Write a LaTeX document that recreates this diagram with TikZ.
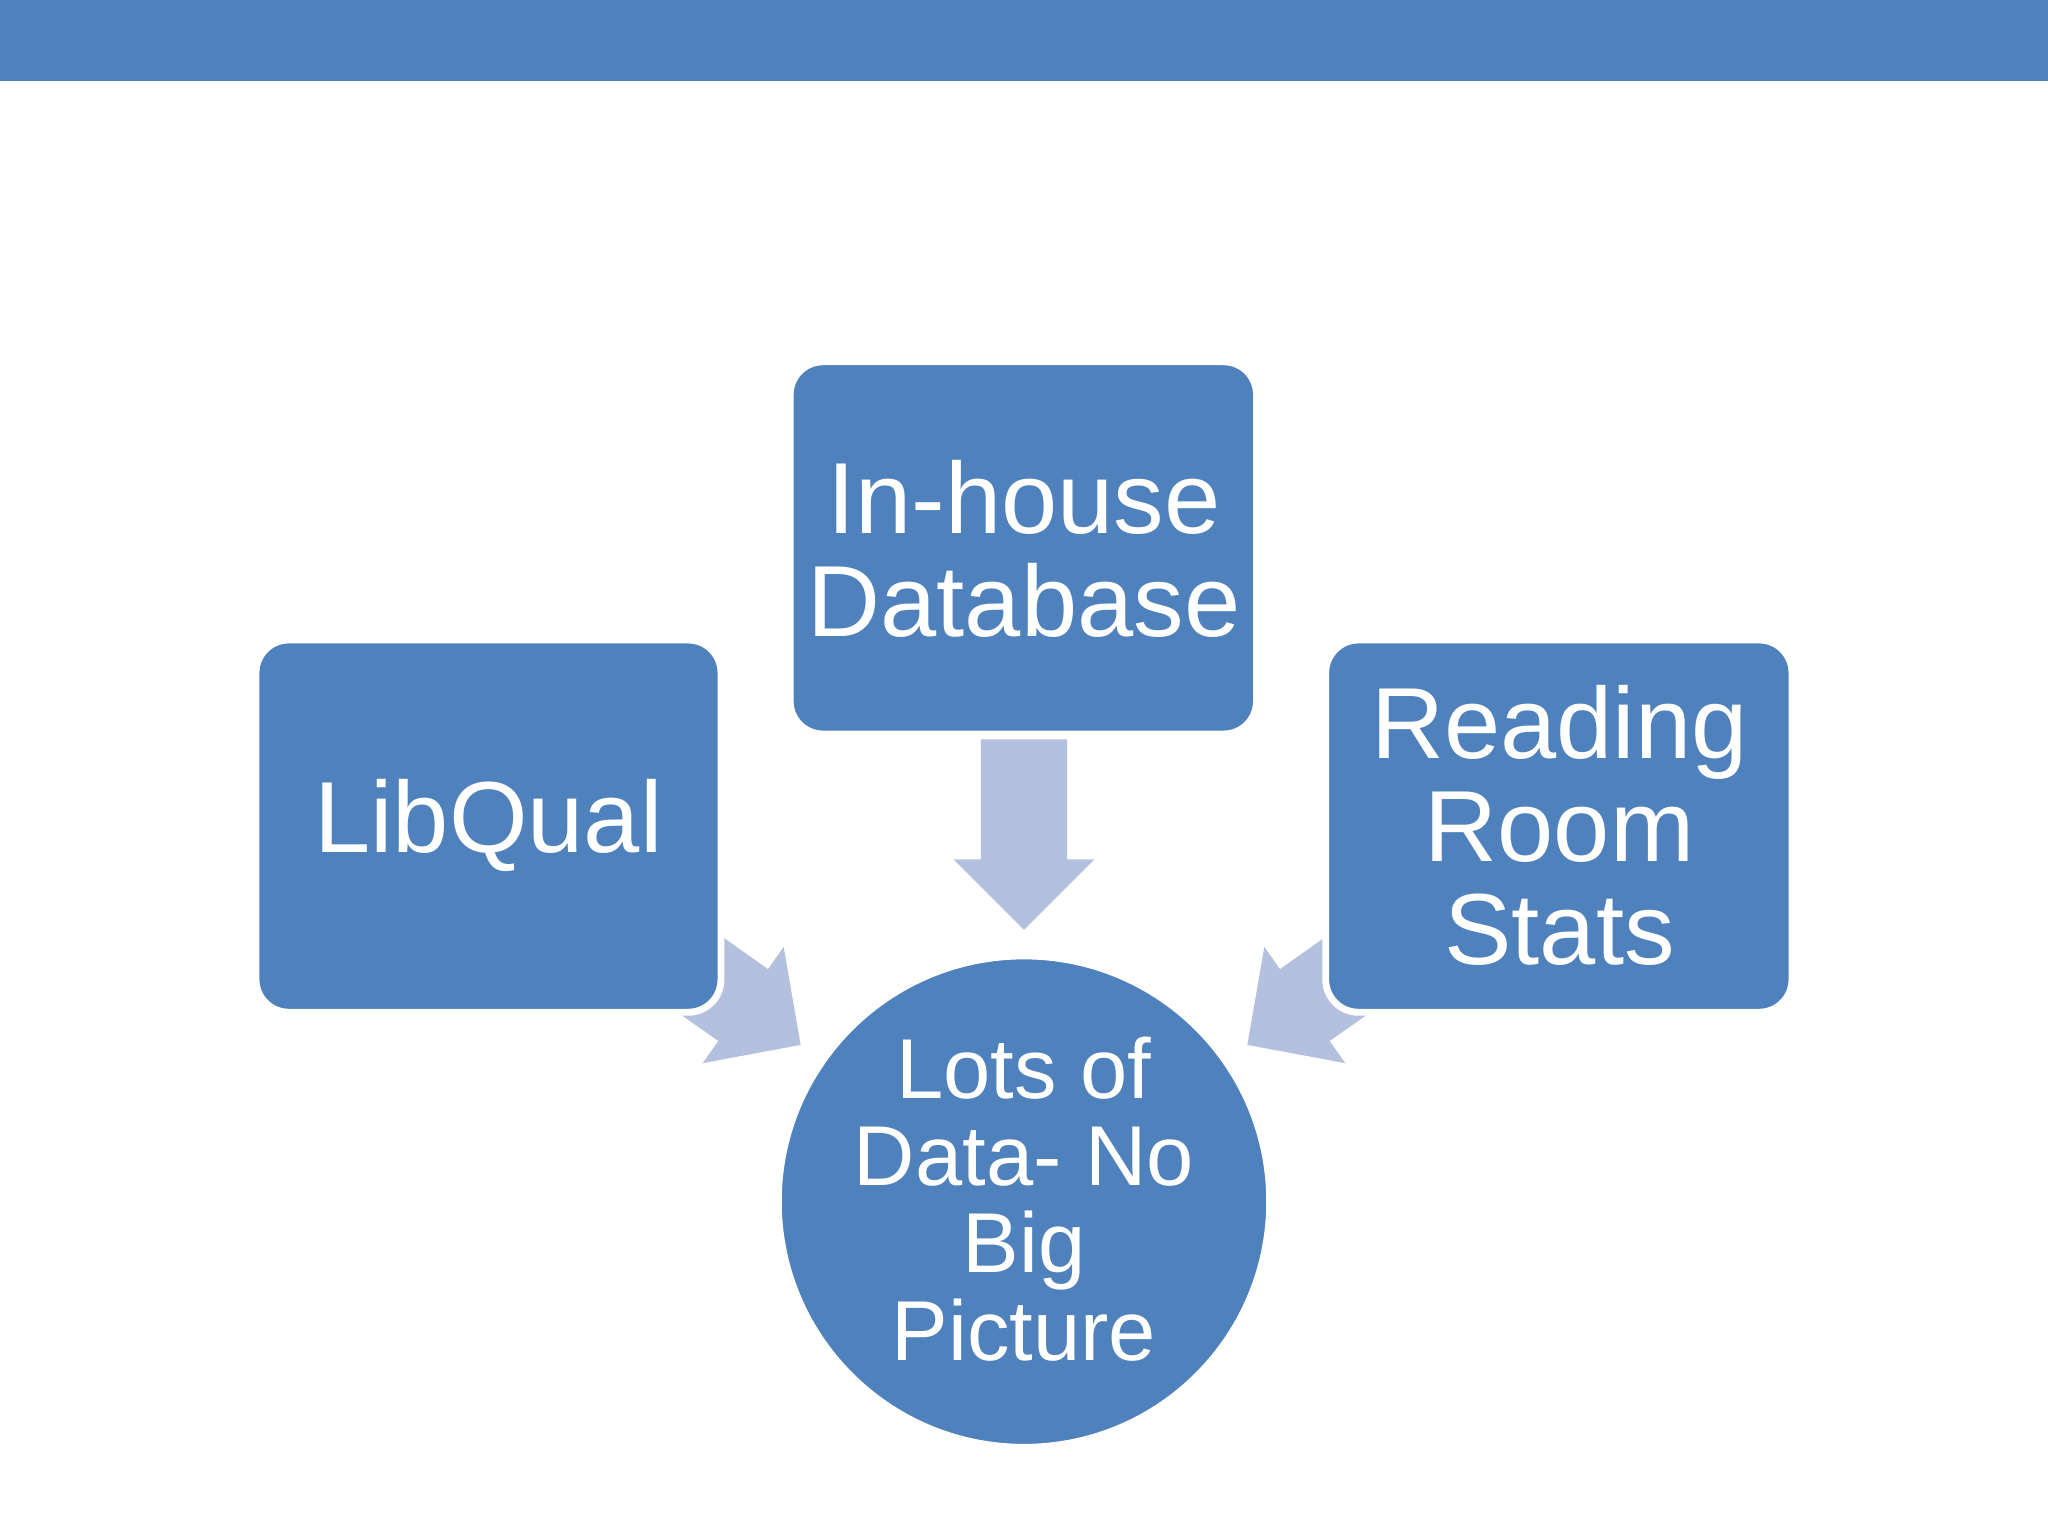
\documentclass[tikz,border=0pt]{standalone}
\usepackage{fontspec}
\setmainfont{Liberation Sans}
\definecolor{blu}{HTML}{4F81BD}
\definecolor{arr}{HTML}{B4C1DE}
\begin{document}
\begin{tikzpicture}[x=0.01cm,y=-0.01cm,
  box/.style={fill=blu,draw=white,line width=1.5pt,rounded corners=0.25cm},
  lab/.style={text=white,align=center,font=\fontsize{22}{22.5}\selectfont},
  clab/.style={text=white,align=center,font=\fontsize{18.5}{19}\selectfont}]
\useasboundingbox (0,0) rectangle (1568,1176);
\fill[blu] (0,0) rectangle (1568,62);
% arrows
\fill[arr] (751,566) -- (817,566) -- (817,658) -- (838,658) -- (784,712) -- (730,658) -- (751,658) -- cycle;
\fill[arr] (540,708) -- (588,742) -- (600,725) -- (613,800) -- (538,814) -- (550,797) -- (510,769) -- cycle;
\fill[arr] (1028,708) -- (980,742) -- (968,725) -- (955,800) -- (1030,814) -- (1018,797) -- (1058,769) -- cycle;
% boxes
\draw[box] (605,277) rectangle (962,562);
\draw[box] (196,490) rectangle (552,775);
\draw[box] (1015,490) rectangle (1372,775);
\node[lab] (db) at (784,420) {In-house\\Database};
\node[lab] (lq) at (374,632) {LibQual};
\node[lab] (rr) at (1194,632) {Reading\\Room\\Stats};
\draw[fill=blu,draw=white,line width=1.5pt] (784,920) circle (1.88cm);
\node[clab] (c) at (784,918) {Lots of\\Data- No\\Big\\Picture};
\end{tikzpicture}
\end{document}
